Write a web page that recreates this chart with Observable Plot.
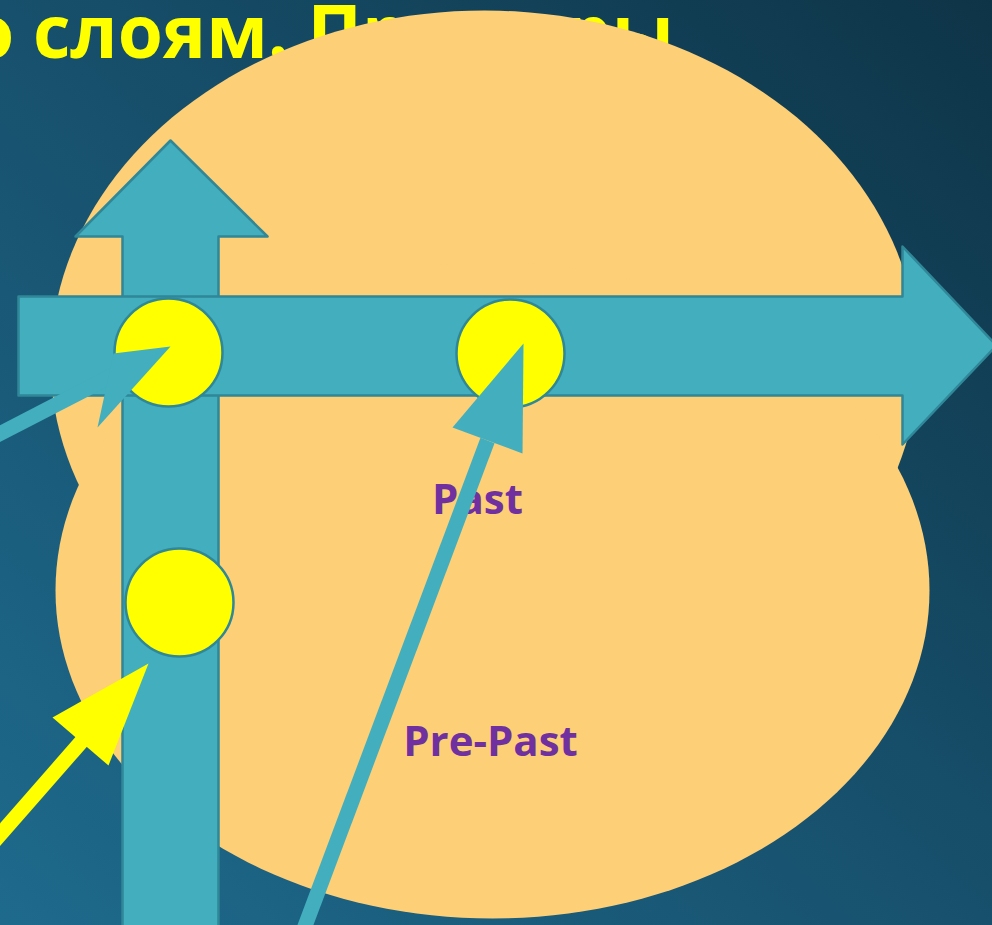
<!DOCTYPE html>
<html>
<head>
<meta charset="utf-8">
<script src="https://cdn.jsdelivr.net/npm/d3@7"></script>
<script src="https://cdn.jsdelivr.net/npm/@observablehq/plot@0.6"></script>
<style>
  html, body { margin: 0; padding: 0; overflow: hidden; background: #15506b; }
  #chart svg { display: block; }
</style>
</head>
<body>
<div id="chart"></div>
<script>
// ---- Data (diagram coordinates: x 0..992, y 0..925 downward) ----
const titleText = ["По слоям. Примеры"];
const titleX = [-86];
const titleY = [57];

// two overlapping ellipses forming the "cloud"
const ellipseNames = ["upper", "lower"];
const ellipseCX = [484, 492];
const ellipseCY = [360, 590];
const ellipseRX = [434, 437];
const ellipseRY = [350, 328];

// big axis arrows (outline vertices)
const vArrowX = [122, 122, 75, 170, 267, 218, 218];
const vArrowY = [935, 236, 236, 140, 236, 236, 935];
const hArrowX = [18, 902, 902, 996, 902, 902, 18];
const hArrowY = [296, 296, 246, 345, 444, 395, 395];

// yellow nodes
const nodeX = [168, 510, 179];
const nodeY = [352, 353, 602];

// thin arrows: tail, head base, tip, barbs
const arrowNames = ["a1", "a2", "a3"];
const arrowColor = ["#42AEBE", "#42AEBE", "#FFFF00"];
const tailX = [-10, 301, -10];
const tailY = [438, 935, 845];
const baseX = [112, 487, 88];
const baseY = [375, 440, 733];
const tipX = [170, 523, 148];
const tipY = [346, 343, 663];
const barbAX = [113, 452, 52];
const barbAY = [353, 427, 717];
const barbBX = [97, 522, 108];
const barbBY = [427, 453, 765];

// labels
const labels = ["Past", "Pre-Past"];
const labelX = [477, 490];
const labelY = [500, 742];

// ---- Build tables ----
const ellipsePts = [];
ellipseNames.forEach((name, i) => {
  for (let k = 0; k <= 180; k++) {
    const t = (k / 180) * 2 * Math.PI;
    ellipsePts.push({z: name, x: ellipseCX[i] + ellipseRX[i] * Math.cos(t), y: ellipseCY[i] + ellipseRY[i] * Math.sin(t)});
  }
});
const vArrow = vArrowX.map((x, i) => ({x, y: vArrowY[i]}));
const hArrow = hArrowX.map((x, i) => ({x, y: hArrowY[i]}));
const nodes = nodeX.map((x, i) => ({x, y: nodeY[i]}));
const shafts = [];
const heads = [];
arrowNames.forEach((n, i) => {
  shafts.push({z: n, c: arrowColor[i], x: tailX[i], y: tailY[i]});
  shafts.push({z: n, c: arrowColor[i], x: baseX[i], y: baseY[i]});
  heads.push({z: n, c: arrowColor[i], x: tipX[i], y: tipY[i]});
  heads.push({z: n, c: arrowColor[i], x: barbAX[i], y: barbAY[i]});
  heads.push({z: n, c: arrowColor[i], x: barbBX[i], y: barbBY[i]});
});
const labelData = labels.map((t, i) => ({t, x: labelX[i], y: labelY[i]}));
const titleData = titleText.map((t, i) => ({t, x: titleX[i], y: titleY[i]}));

const edge = "#2F8797";
const blue = "#42AEBE";

const chart = Plot.plot({
  width: 992,
  height: 925,
  margin: 0,
  x: {domain: [0, 992], range: [0, 992], axis: null},
  y: {domain: [0, 925], range: [0, 925], axis: null},
  color: {type: "identity"},
  style: {background: "linear-gradient(to top right, #1e6a8d 0%, #17506c 50%, #0e3447 100%)", overflow: "hidden"},
  marks: [
    Plot.text(titleData, {x: "x", y: "y", text: "t", textAnchor: "start", lineAnchor: "bottom",
      fill: "#FFFF00", fontSize: 73, fontWeight: "bold", fontFamily: "Open Sans"}),
    Plot.line(ellipsePts, {x: "x", y: "y", z: "z", curve: "linear-closed", fill: "#FDCF77", stroke: "none"}),
    Plot.line(vArrow, {x: "x", y: "y", curve: "linear-closed", fill: blue, stroke: edge, strokeWidth: 2.5}),
    Plot.line(hArrow, {x: "x", y: "y", curve: "linear-closed", fill: blue, stroke: edge, strokeWidth: 2.5}),
    Plot.dot(nodes, {x: "x", y: "y", r: 54, fill: "#FFFF00", stroke: edge, strokeWidth: 2.5}),
    Plot.text(labelData, {x: "x", y: "y", text: "t", fill: "#7030A0", fontSize: 42, fontWeight: "bold", fontFamily: "Open Sans"}),
    Plot.line(shafts, {x: "x", y: "y", z: "z", stroke: "c", strokeWidth: 15, strokeLinecap: "butt"}),
    Plot.line(heads, {x: "x", y: "y", z: "z", curve: "linear-closed", fill: "c", stroke: "none"})
  ]
});
document.getElementById("chart").appendChild(chart);
</script>
</body>
</html>
